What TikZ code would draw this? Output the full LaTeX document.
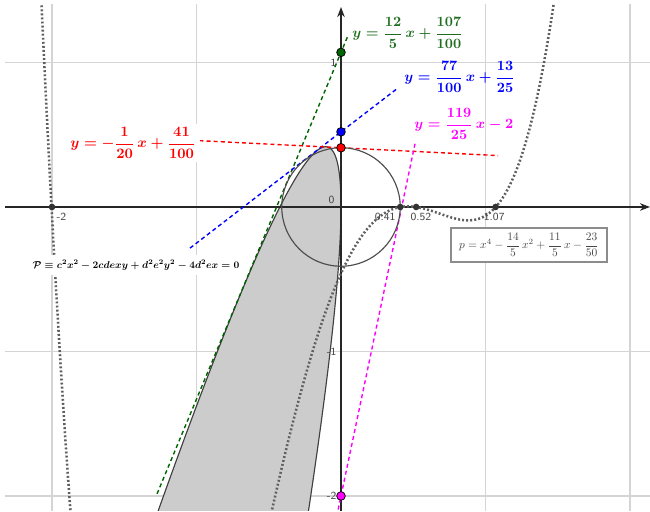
\documentclass[tikz,border=0pt]{standalone}
\usepackage{amsmath,amssymb}
\usepackage{graphicx}
\usepackage{tikz}
\usetikzlibrary{arrows.meta, calc}
\definecolor{tgreen}{RGB}{0,100,0}
\definecolor{lgreen}{RGB}{30,110,30}
\definecolor{tblue}{RGB}{0,0,255}
\definecolor{tred}{RGB}{255,0,0}
\definecolor{tmagenta}{RGB}{255,0,255}
\definecolor{gridgray}{RGB}{212,212,212}
\definecolor{curvegray}{RGB}{95,95,95}
\definecolor{fillgray}{RGB}{204,204,204}
\definecolor{textgray}{RGB}{70,70,70}

\begin{document}
\begin{tikzpicture}[scale=2,
  tangent/.style={dash pattern=on 1.6pt off 1.2pt, line width=0.55pt},
  bigpt/.style={circle, draw=black, line width=0.3pt, inner sep=0pt, minimum size=3.4pt},
  rootpt/.style={circle, fill=black!80, inner sep=0pt, minimum size=2.6pt},
  axlabel/.style={font=\sffamily\fontsize{4.3}{5}\selectfont, text=textgray, inner sep=0pt},
  eqlabel/.style={font=\normalsize\mathversion{bold}, inner sep=0.5pt, anchor=west}]
  \useasboundingbox (-2.3599,-2.1107) rectangle (2.1384,1.4325);
  \begin{scope}
    \clip (-2.325,-2.097) rectangle (2.1384,1.40);
    % grid
    \foreach \gx in {-2,-1,1,2} \draw[gridgray, line width=0.45pt] (\gx,-2.2) -- (\gx,1.5);
    \foreach \gy in {-2,-1,1} \draw[gridgray, line width=0.45pt] (-2.4,\gy) -- (2.2,\gy);
    % parabola P
    \filldraw[fill=fillgray, draw=black!75, line width=0.45pt]
      plot[domain=-0.87:0.43, samples=120, smooth, variable=\t]
      ({-(\t)*(\t)/0.4232}, {(-(\t)*(\t)/0.4232-(\t))/0.2537}) -- cycle;
    % axes
    \draw[black!85, line width=0.45pt, -{Stealth[length=4pt, width=3pt]}] (-2.325,0) -- (2.1384,0);
    \draw[black!85, line width=0.45pt, -{Stealth[length=4pt, width=3pt]}] (0,-2.2) -- (0,1.384);
    % tangent lines
    \draw[tangent, tgreen] (-1.273,-1.985) -- (0.048,1.185);
    \draw[tangent, tblue] (-1.045,-0.2847) -- (0.394,0.8234);
    \draw[tangent, tred] (-0.98,0.459) -- (1.087,0.3557);
    \draw[tangent, tmagenta] (-0.05,-2.238) -- (0.512,0.437);
    % circle
    \draw[black!70, line width=0.45pt] (0,0) circle (0.41);
    % quartic p
    \draw[curvegray, line width=1pt, dash pattern=on 0.75pt off 0.85pt]
      plot[domain=-2.12:1.5, samples=400, smooth]
      (\x, {(\x)*(\x)*(\x)*(\x) - 2.8*(\x)*(\x) + 2.2*(\x) - 0.46});
  \end{scope}
  % axis numbers
  \node[axlabel, anchor=south east] (n0) at ([xshift=-1.2pt, yshift=0.6pt]0,0) {0};
  \node[axlabel, anchor=east] (n1) at ([xshift=-0.8pt]0,1) {1};
  \node[axlabel, anchor=east] (nm1) at ([xshift=-0.8pt]0,-1) {-1};
  \node[axlabel, anchor=east] (nm2) at ([xshift=-0.8pt]0,-2) {-2};
  % roots of p
  \node[rootpt] (r1) at (-2,0) {};
  \node[rootpt] (r2) at (0.41,0) {};
  \node[rootpt] (r3) at (0.52,0) {};
  \node[rootpt] (r4) at (1.07,0) {};
  \node[axlabel, anchor=north west] (lr1) at ([xshift=0.8pt, yshift=-1.2pt]r1.center) {-2};
  \node[axlabel, anchor=north west] (lr2) at ([xshift=-5.1pt, yshift=-1.2pt]r2.center) {0.41};
  \node[axlabel, anchor=north west] (lr3) at ([xshift=-1.2pt, yshift=-1.2pt]r3.center) {0.52};
  \node[axlabel, anchor=north west] (lr4) at ([xshift=-2.4pt, yshift=-1.2pt]r4.center) {1.07};
  % intercepts
  \node[bigpt, fill=tgreen] (pg) at (0,1.07) {};
  \node[bigpt, fill=tblue] (pb) at (0,0.52) {};
  \node[bigpt, fill=tred] (pr) at (0,0.41) {};
  \node[bigpt, fill=tmagenta] (pm) at (0,-2) {};
  % equations
  \node[eqlabel, lgreen] (eqg) at (0.067,1.204) {\scalebox{0.56}{$y=\dfrac{12}{5}\,x+\dfrac{107}{100}$}};
  \node[eqlabel, tblue] (eqb) at (0.427,0.900) {\scalebox{0.56}{$y=\dfrac{77}{100}\,x+\dfrac{13}{25}$}};
  \node[eqlabel, tmagenta] (eqm) at (0.496,0.574) {\scalebox{0.56}{$y=\dfrac{119}{25}\,x-2$}};
  \node[eqlabel, tred, fill=white, inner sep=1.5pt] (eqr) at (-1.903,0.443) {\scalebox{0.57}{$y=-\dfrac{1}{20}\,x+\dfrac{41}{100}$}};
  \node[eqlabel, fill=white, inner sep=2pt] (eqp) at (-2.173,-0.401) {\scalebox{0.394}{$\mathcal{P}\equiv c^2x^2-2cdexy+d^2e^2y^2-4d^2ex=0$}};
  \node[draw=black!45, fill=white, text=textgray, line width=0.45pt, font=\normalsize, minimum width=61.4pt, minimum height=13.4pt, inner sep=1pt] (eqq) at (1.301,-0.263) {\scalebox{0.452}{$p=x^4-\dfrac{14}{5}\,x^2+\dfrac{11}{5}\,x-\dfrac{23}{50}$}};
\end{tikzpicture}
\end{document}
